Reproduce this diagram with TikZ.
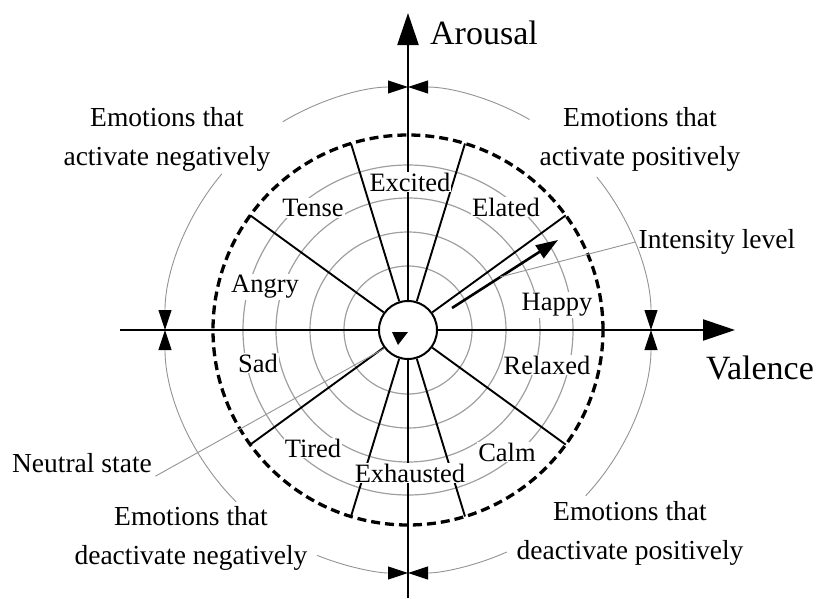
\documentclass[tikz,border=0pt]{standalone}
\usepackage{fontspec}
\setmainfont{Liberation Serif}
\usetikzlibrary{arrows.meta}
\newcommand{\emosize}{\fontsize{26.5}{39}\selectfont}
\newcommand{\quadsize}{\fontsize{27.5}{39}\selectfont}
\newcommand{\axsize}{\fontsize{34}{40}\selectfont}
\tikzset{
  emo/.style={fill=white, inner sep=1pt, font=\emosize},
  quadlabel/.style={align=center, font=\quadsize},
  ring/.style={gray!75, line width=1.2pt},
  spoke/.style={line width=1.9pt},
  axisline/.style={line width=2.3pt, -{Triangle[length=32pt,width=21pt]}},
  quadarc/.style={gray!85, line width=0.9pt, -{Triangle[length=20pt,width=13pt,black]}},
  leader/.style={gray!85, line width=0.9pt},
}
\begin{document}
\begin{tikzpicture}[x=1pt, y=1pt]
  \useasboundingbox (-408,-268) rectangle (408,330);
  % intensity rings
  \draw[ring] (0,0) circle[radius=64];
  \draw[ring] (0,0) circle[radius=98];
  \draw[ring] (0,0) circle[radius=132];
  \draw[ring] (0,0) circle[radius=165];
  % axes
  \draw[axisline] (-288,0) -- (327,0);
  \draw[axisline] (0,-268) -- (0,317);
  \node[font=\axsize] (valence) at (352,-38) {Valence};
  \node[font=\axsize] (arousal) at (76,297) {Arousal};
  % neutral point
  \node[circle, draw, fill=white, line width=2pt, minimum size=58pt, inner sep=0pt] (hub) at (0,0) {};
  \fill (-16,-2) -- (0,-2) -- (-10,-15) -- cycle;
  % spokes
  \draw[spoke] (hub.36) -- (36:195);
  \draw[spoke] (hub.73) -- (73:195);
  \draw[spoke] (hub.107) -- (107:195);
  \draw[spoke] (hub.144) -- (144:195);
  \draw[spoke] (hub.216) -- (216:195);
  \draw[spoke] (hub.253) -- (253:195);
  \draw[spoke] (hub.287) -- (287:195);
  \draw[spoke] (hub.324) -- (324:195);
  % limit of intensity
  \draw[line width=3.3pt, dash pattern=on 9pt off 5pt] (0,0) circle[radius=195];
  % intensity arrow
  \draw[line width=2.6pt, -{Triangle[length=22pt,width=15pt]}] (44,22) -- (150,90);
  \coordinate (ilev) at (92,53);
  % emotions
  \node[emo] (excited) at (2,148) {Excited};
  \node[emo] (elated) at (98,123) {Elated};
  \node[emo] (tense) at (-95,122) {Tense};
  \node[emo] (angry) at (-143,43) {Angry};
  \node[emo] (happy) at (149,25) {Happy};
  \node[emo] (sad) at (-150,-33) {Sad};
  \node[emo] (relaxed) at (139,-35) {Relaxed};
  \node[emo] (tired) at (-95,-118) {Tired};
  \node[emo] (calm) at (99,-122) {Calm};
  \node[emo] (exhausted) at (2,-143) {Exhausted};
  % quadrants
  \node[quadlabel] (actneg) at (-241,191) {Emotions that\\activate negatively};
  \node[quadlabel] (actpos) at (232,191) {Emotions that\\activate positively};
  \node[quadlabel] (deactneg) at (-217,-208) {Emotions that\\deactivate negatively};
  \node[quadlabel] (deactpos) at (222,-203) {Emotions that\\deactivate positively};
  \draw[quadarc] (121:243) arc[start angle=121, end angle=90, radius=243];
  \draw[quadarc] (140:243) arc[start angle=140, end angle=180, radius=243];
  \draw[quadarc] (60:243) arc[start angle=60, end angle=90, radius=243];
  \draw[quadarc] (39:243) arc[start angle=39, end angle=0, radius=243];
  \draw[quadarc] (225:243) arc[start angle=225, end angle=180, radius=243];
  \draw[quadarc] (248:243) arc[start angle=248, end angle=270, radius=243];
  \draw[quadarc] (294:243) arc[start angle=294, end angle=270, radius=243];
  \draw[quadarc] (317:243) arc[start angle=317, end angle=360, radius=243];
  % callouts
  \node[font=\quadsize] (intensity) at (309,88) {Intensity level};
  \node[font=\quadsize] (neutral) at (-326,-133) {Neutral state};
  \draw[leader] (intensity.west) -- (ilev);
  \draw[leader] (neutral.south east) -- (hub.218);
\end{tikzpicture}
\end{document}
